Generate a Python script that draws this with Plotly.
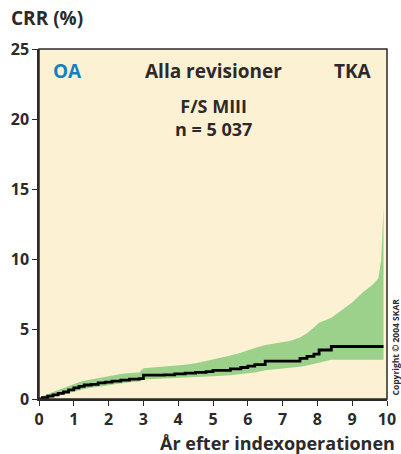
import plotly.graph_objects as go

# Kumulativ revisionsfrekvens (CRR) med 95 % konfidensintervall
years = [0, 0.1, 0.25, 0.4, 0.55, 0.7, 0.85, 1.0, 1.15, 1.3, 1.5, 1.7, 1.9, 2.1, 2.35,
         2.6, 2.88, 3.0, 3.3, 3.6, 3.9, 4.2, 4.5, 4.8, 5.0, 5.5, 5.8, 6.0, 6.2, 6.5,
         7.2, 7.5, 7.7, 7.9, 8.05, 8.4, 9.0, 9.3, 9.6, 9.75, 9.83, 9.9]
crr = [0, 0.1, 0.2, 0.3, 0.4, 0.5, 0.65, 0.8, 0.9, 1.0, 1.05, 1.15, 1.2, 1.28, 1.35,
       1.42, 1.45, 1.7, 1.7, 1.72, 1.8, 1.85, 1.9, 1.95, 2.05, 2.15, 2.25, 2.35, 2.45, 2.7,
       2.7, 2.9, 3.05, 3.2, 3.5, 3.75, 3.75, 3.75, 3.75, 3.75, 3.75, 3.75]
upper = [0, 0.2, 0.35, 0.5, 0.65, 0.8, 0.95, 1.1, 1.2, 1.3, 1.4, 1.5, 1.6, 1.68, 1.78,
         1.85, 1.9, 2.2, 2.25, 2.3, 2.4, 2.45, 2.55, 2.7, 2.85, 3.1, 3.3, 3.5, 3.65, 3.85,
         4.15, 4.4, 4.7, 5.1, 5.45, 5.8, 6.9, 7.6, 8.2, 8.6, 9.9, 13.7]
lower = [0, 0.03, 0.08, 0.15, 0.25, 0.35, 0.45, 0.57, 0.65, 0.72, 0.8, 0.88, 0.95, 1.05, 1.12,
         1.2, 1.25, 1.4, 1.42, 1.45, 1.5, 1.55, 1.57, 1.6, 1.62, 1.7, 1.78, 1.84, 1.9, 2.05,
         2.22, 2.3, 2.4, 2.5, 2.6, 2.8, 2.8, 2.8, 2.8, 2.8, 2.8, 2.8]

x_ticks = list(range(0, 11))
y_ticks = [0, 5, 10, 15, 20, 25]

FONT = "Open Sans"
DARK = "#2b2a29"

fig = go.Figure()
fig.add_trace(go.Scatter(x=years, y=lower, mode="lines", line=dict(width=0),
                         hoverinfo="skip", showlegend=False))
fig.add_trace(go.Scatter(x=years, y=upper, mode="lines", line=dict(width=0),
                         fill="tonexty", fillcolor="#9bd18b",
                         hoverinfo="skip", showlegend=False))
fig.add_trace(go.Scatter(x=years, y=crr, mode="lines", line_shape="hv",
                         line=dict(color="black", width=2.8), showlegend=False))

fig.update_layout(
    width=401, height=454,
    margin=dict(l=39, r=14, t=49, b=55),
    paper_bgcolor="white",
    plot_bgcolor="#fdf1d4",
    font=dict(family=FONT, color=DARK),
    shapes=[dict(type="rect", xref="paper", yref="paper", x0=0, y0=0, x1=1, y1=1,
                 line=dict(color=DARK, width=1.5), layer="above")],
)
axis_style = dict(showgrid=False, zeroline=False, automargin=False,
                  showline=True, linecolor=DARK, linewidth=1.5,
                  ticks="outside", ticklen=5, tickcolor=DARK,
                  tickfont=dict(family=FONT, size=16, weight="bold", color=DARK))
fig.update_xaxes(range=[0, 10], tickvals=x_ticks, **axis_style)
fig.update_yaxes(range=[0, 25], tickvals=y_ticks, **axis_style)

bold = dict(family=FONT, size=19, weight="bold", color=DARK)
fig.add_annotation(text="CRR (%)", xref="paper", yref="paper", x=-0.085, y=1.089,
                   xanchor="left", yanchor="middle", showarrow=False, font=bold)
fig.add_annotation(text="OA", xref="paper", yref="paper", x=0.035, y=0.937,
                   xanchor="left", yanchor="middle", showarrow=False,
                   font=dict(family=FONT, size=19, weight="bold", color="#1081c6"))
fig.add_annotation(text="Alla revisioner", xref="paper", yref="paper", x=0.5, y=0.937,
                   xanchor="center", yanchor="middle", showarrow=False, font=bold)
fig.add_annotation(text="TKA", xref="paper", yref="paper", x=0.962, y=0.937,
                   xanchor="right", yanchor="middle", showarrow=False, font=bold)
fig.add_annotation(text="F/S MIII<br>n = 5 037", xref="paper", yref="paper", x=0.5, y=0.803,
                   xanchor="center", yanchor="middle", showarrow=False,
                   font=dict(family=FONT, size=18, weight="bold", color=DARK))
fig.add_annotation(text="År efter indexoperationen", xref="paper", yref="paper",
                   x=1.03, y=-0.126, xanchor="right", yanchor="middle",
                   showarrow=False, font=dict(family=FONT, size=18, weight="bold", color=DARK))
fig.add_annotation(text="Copyright © 2004 SKAR", xref="paper", yref="paper", x=1.023, y=0.003,
                   xanchor="center", yanchor="bottom", textangle=-90, showarrow=False,
                   font=dict(family=FONT, size=8.5, weight="bold", color=DARK))

fig.write_html("out.html", config={"displayModeBar": False},
               post_script="document.body.style.margin='0';")
